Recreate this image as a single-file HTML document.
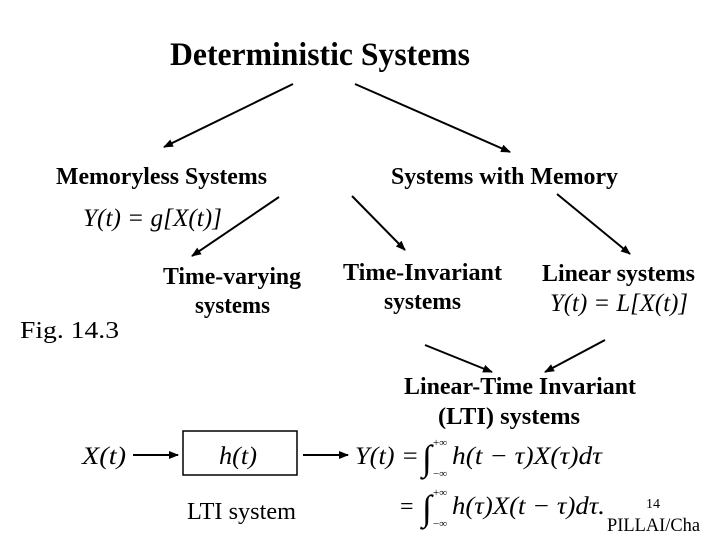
<!DOCTYPE html>
<html><head><meta charset="utf-8"><style>
html,body{margin:0;padding:0;background:#fff;width:720px;height:540px;overflow:hidden}
svg{display:block}
text{font-family:"Liberation Serif",serif;fill:#000}
.b{font-weight:bold;font-size:24px}
.i{font-style:italic;font-size:25px}
</style></head><body>
<svg width="720" height="540" viewBox="0 0 720 540">
<defs><marker id="a" markerWidth="10" markerHeight="8" refX="9" refY="4" orient="auto" markerUnits="userSpaceOnUse"><path d="M0,0 L10,4 L0,8 z" fill="#000"/></marker></defs>
<g stroke="#000" stroke-width="2" marker-end="url(#a)">
<line x1="293" y1="84" x2="164" y2="147"/>
<line x1="355" y1="84" x2="510" y2="152"/>
<line x1="279" y1="197" x2="192" y2="256"/>
<line x1="352" y1="196" x2="405" y2="250"/>
<line x1="557" y1="194" x2="630" y2="254"/>
<line x1="425" y1="345" x2="492" y2="372"/>
<line x1="605" y1="340" x2="545" y2="372"/>
<line x1="133" y1="455" x2="178" y2="455"/>
<line x1="303" y1="455" x2="348" y2="455"/>
</g>
<rect x="183" y="431" width="114" height="44" fill="none" stroke="#000" stroke-width="1.5"/>
<text x="170" y="65" font-weight="bold" font-size="33" textLength="300" lengthAdjust="spacingAndGlyphs">Deterministic Systems</text>
<text class="b" x="56" y="184" textLength="211" lengthAdjust="spacingAndGlyphs">Memoryless Systems</text>
<text class="b" x="391" y="184" textLength="227" lengthAdjust="spacingAndGlyphs">Systems with Memory</text>
<text class="i" x="83" y="226" textLength="139" lengthAdjust="spacingAndGlyphs">Y(t) = g[X(t)]</text>
<text class="b" x="163" y="284" textLength="138" lengthAdjust="spacingAndGlyphs">Time-varying</text>
<text class="b" x="195" y="313" textLength="75" lengthAdjust="spacingAndGlyphs">systems</text>
<text class="b" x="343" y="280" textLength="159" lengthAdjust="spacingAndGlyphs">Time-Invariant</text>
<text class="b" x="384" y="309" textLength="77" lengthAdjust="spacingAndGlyphs">systems</text>
<text class="b" x="542" y="281" textLength="153" lengthAdjust="spacingAndGlyphs">Linear systems</text>
<text class="i" x="550" y="311" textLength="138" lengthAdjust="spacingAndGlyphs">Y(t) = L[X(t)]</text>
<text x="20" y="338" font-size="24" textLength="99" lengthAdjust="spacingAndGlyphs">Fig. 14.3</text>
<text class="b" x="404" y="394" textLength="232" lengthAdjust="spacingAndGlyphs">Linear-Time Invariant</text>
<text class="b" x="438" y="424" textLength="142" lengthAdjust="spacingAndGlyphs">(LTI) systems</text>
<text class="i" x="82" y="464" textLength="44" lengthAdjust="spacingAndGlyphs">X(t)</text>
<text class="i" x="219" y="464" textLength="38" lengthAdjust="spacingAndGlyphs">h(t)</text>
<text class="i" x="355" y="464" textLength="64" lengthAdjust="spacingAndGlyphs">Y(t) =</text>
<text x="422" y="470" font-size="36">∫</text>
<text x="433" y="446" font-size="11">+∞</text>
<text x="433" y="477" font-size="11">−∞</text>
<text class="i" x="452" y="464" textLength="150" lengthAdjust="spacingAndGlyphs">h(t − τ)X(τ)dτ</text>
<text x="400" y="514" font-size="24">=</text>
<text x="422" y="520" font-size="36">∫</text>
<text x="433" y="496" font-size="11">+∞</text>
<text x="433" y="527" font-size="11">−∞</text>
<text class="i" x="452" y="514" textLength="153" lengthAdjust="spacingAndGlyphs">h(τ)X(t − τ)dτ.</text>
<text x="187" y="519" font-size="24" textLength="109" lengthAdjust="spacingAndGlyphs">LTI system</text>
<text x="646" y="508" font-size="14">14</text>
<text x="607" y="531" font-size="19" textLength="93" lengthAdjust="spacingAndGlyphs">PILLAI/Cha</text>
</svg>
</body></html>
